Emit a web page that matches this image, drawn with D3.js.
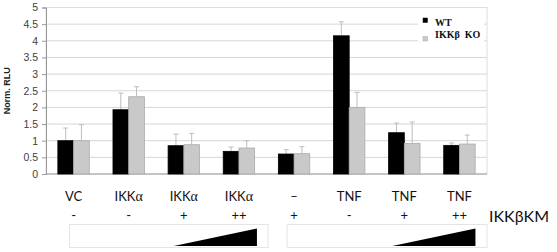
<!DOCTYPE html>
<html>
<head>
<meta charset="utf-8">
<script src="https://cdn.jsdelivr.net/npm/d3@7"></script>
<style>
  body { margin: 0; background: #fff; }
  svg { display: block; }
</style>
</head>
<body>
<script>
// data
const groups = ['VC', 'IKKa1', 'IKKa2', 'IKKa3', 'none', 'TNF1', 'TNF2', 'TNF3'];
const topLabels = ['VC', 'IKKα', 'IKKα', 'IKKα', '–', 'TNF', 'TNF', 'TNF'];
const kmLabels = ['-', '-', '+', '++', '+', '-', '+', '++'];
const series = ['WT', 'IKKβ  KO'];
const wtValues = [1.0, 1.93, 0.85, 0.68, 0.6, 4.15, 1.24, 0.86];
const wtErrTop = [1.38, 2.43, 1.2, 0.81, 0.73, 4.57, 1.53, 0.93];
const koValues = [1.0, 2.32, 0.88, 0.78, 0.61, 2.0, 0.92, 0.9];
const koErrTop = [1.48, 2.62, 1.22, 1.0, 0.82, 2.45, 1.56, 1.17];
const yTicks = [0, 0.5, 1, 1.5, 2, 2.5, 3, 3.5, 4, 4.5, 5];

const colors = { WT: '#000000', 'IKKβ  KO': '#c9c9c9' };

const config = {
  width: 557,
  height: 252,
  left: 46,
  right: 487,
  top: 7.5,
  bottom: 174
};

const svg = d3.select('body')
  .append('svg')
  .attr('width', config.width)
  .attr('height', config.height);

const x = d3.scaleBand()
  .domain(groups)
  .range([config.left, config.right])
  .paddingInner(0.43)
  .paddingOuter(0.215);

const xs = d3.scaleBand()
  .domain(series)
  .range([0, x.bandwidth()]);

const y = d3.scaleLinear()
  .domain([0, 5])
  .range([config.bottom, config.top]);

const cx = g => x(g) + x.bandwidth() / 2;

// gridlines
svg.append('g')
  .selectAll('line')
  .data(yTicks.filter(t => t > 0 && t < 5))
  .join('line')
  .attr('x1', config.left)
  .attr('x2', config.right)
  .attr('y1', d => y(d))
  .attr('y2', d => y(d))
  .attr('stroke', '#d6d6d6')
  .attr('stroke-width', 1);

// plot border
svg.append('rect')
  .attr('x', config.left)
  .attr('y', y(5))
  .attr('width', config.right - config.left)
  .attr('height', y(0) - y(5))
  .attr('fill', 'none')
  .attr('stroke', '#dedede');

// y axis
const yAxis = svg.append('g')
  .attr('transform', `translate(${config.left},0)`)
  .call(d3.axisLeft(y).tickValues(yTicks).tickSize(4).tickPadding(4).tickFormat(d => String(d)));
yAxis.selectAll('text')
  .attr('font-family', '"Liberation Sans", Arial, sans-serif')
  .attr('font-size', 10.5)
  .attr('fill', '#404040');
yAxis.selectAll('line').attr('stroke', '#9a9a9a');
yAxis.select('.domain').attr('stroke', '#9a9a9a');

// bottom baseline
svg.append('line')
  .attr('x1', config.left)
  .attr('x2', config.right)
  .attr('y1', y(0))
  .attr('y2', y(0))
  .attr('stroke', '#9a9a9a');

svg.append('text')
  .attr('transform', `translate(10,${(y(0) + y(5)) / 2}) rotate(-90)`)
  .attr('text-anchor', 'middle')
  .attr('font-family', '"Liberation Sans", Arial, sans-serif')
  .attr('font-weight', 'bold')
  .attr('font-size', 9)
  .attr('fill', '#222')
  .text('Norm. RLU');

// bars
const rows = groups.map((g, i) => [
  { g, s: series[0], v: wtValues[i], e: wtErrTop[i] },
  { g, s: series[1], v: koValues[i], e: koErrTop[i] }
]).flat();

// error bars first (upper only)
const err = svg.append('g')
  .attr('stroke', '#bdbdbd')
  .attr('stroke-width', 1);
err.selectAll('.ev')
  .data(rows)
  .join('line')
  .attr('x1', d => x(d.g) + xs(d.s) + xs.bandwidth() / 2)
  .attr('x2', d => x(d.g) + xs(d.s) + xs.bandwidth() / 2)
  .attr('y1', d => y(d.v))
  .attr('y2', d => y(d.e));
err.selectAll('.ec')
  .data(rows)
  .join('line')
  .attr('x1', d => x(d.g) + xs(d.s) + xs.bandwidth() / 2 - 2.5)
  .attr('x2', d => x(d.g) + xs(d.s) + xs.bandwidth() / 2 + 2.5)
  .attr('y1', d => y(d.e))
  .attr('y2', d => y(d.e));

svg.append('g')
  .selectAll('rect')
  .data(rows)
  .join('rect')
  .attr('x', d => x(d.g) + xs(d.s))
  .attr('y', d => y(d.v))
  .attr('width', xs.bandwidth())
  .attr('height', d => y(0) - y(d.v))
  .attr('fill', d => colors[d.s])
  .attr('stroke', d => d.s === 'WT' ? '#000' : '#ababab')
  .attr('stroke-width', 0.8);

// legend
const legend = svg.append('g');
legend.append('rect')
  .attr('x', 418)
  .attr('y', 13)
  .attr('width', 66)
  .attr('height', 31)
  .attr('fill', '#fff');
series.forEach((s, i) => {
  legend.append('rect')
    .attr('x', 423)
    .attr('y', 18 + i * 18.5)
    .attr('width', 4.5)
    .attr('height', 4.5)
    .attr('fill', colors[s])
    .attr('stroke', i ? '#aaa' : '#000')
    .attr('stroke-width', 0.5);
  legend.append('text')
    .attr('x', 435)
    .attr('y', 25.5 + i * 12.5)
    .attr('font-family', '"Liberation Serif", "Times New Roman", serif')
    .attr('font-weight', 'bold')
    .attr('font-size', 10)
    .attr('fill', '#111')
    .style('white-space', 'pre')
    .text(s);
});

// category labels
const labelFont = 'Lato, "Open Sans", sans-serif';
svg.append('g')
  .selectAll('text')
  .data(groups)
  .join('text')
  .attr('x', d => cx(d))
  .attr('y', 201)
  .attr('text-anchor', 'middle')
  .attr('font-family', labelFont)
  .attr('font-size', 13)
  .attr('fill', '#111')
  .each(function (d, i) {
    const t = d3.select(this);
    const lab = topLabels[i];
    if (lab.endsWith('α')) {
      t.append('tspan').text(lab.slice(0, -1));
      t.append('tspan')
        .attr('font-family', '"Liberation Serif", serif')
        .attr('font-size', 14)
        .text('α');
    } else {
      t.text(lab);
    }
  });

svg.append('g')
  .selectAll('text')
  .data(groups)
  .join('text')
  .attr('x', d => cx(d))
  .attr('y', 220)
  .attr('text-anchor', 'middle')
  .attr('font-family', labelFont)
  .attr('font-size', 13)
  .attr('fill', '#111')
  .text((d, i) => kmLabels[i]);

svg.append('text')
  .attr('x', 489)
  .attr('y', 221.5)
  .attr('font-family', labelFont)
  .attr('font-size', 16)
  .attr('fill', '#111')
  .text('IKKβKM');

// dose ramps
const panels = [
  { x0: cx(groups[0]) - 4, x1: cx(groups[4]) - 26, t0: cx(groups[2]) - 10, t1: cx(groups[3]) + 18 },
  { x0: cx(groups[4]) - 7, x1: config.right, t0: cx(groups[6]) - 12, t1: cx(groups[7]) + 16 }
];
const ramp = svg.append('g');
ramp.selectAll('rect')
  .data(panels)
  .join('rect')
  .attr('x', d => d.x0)
  .attr('y', 224.5)
  .attr('width', d => d.x1 - d.x0)
  .attr('height', 23)
  .attr('fill', 'none')
  .attr('stroke', '#e4e4e4');
ramp.selectAll('path')
  .data(panels)
  .join('path')
  .attr('d', d => `M${d.t0},246 L${d.t1},246 L${d.t1},228.5 Z`)
  .attr('fill', '#000');
</script>
</body>
</html>
